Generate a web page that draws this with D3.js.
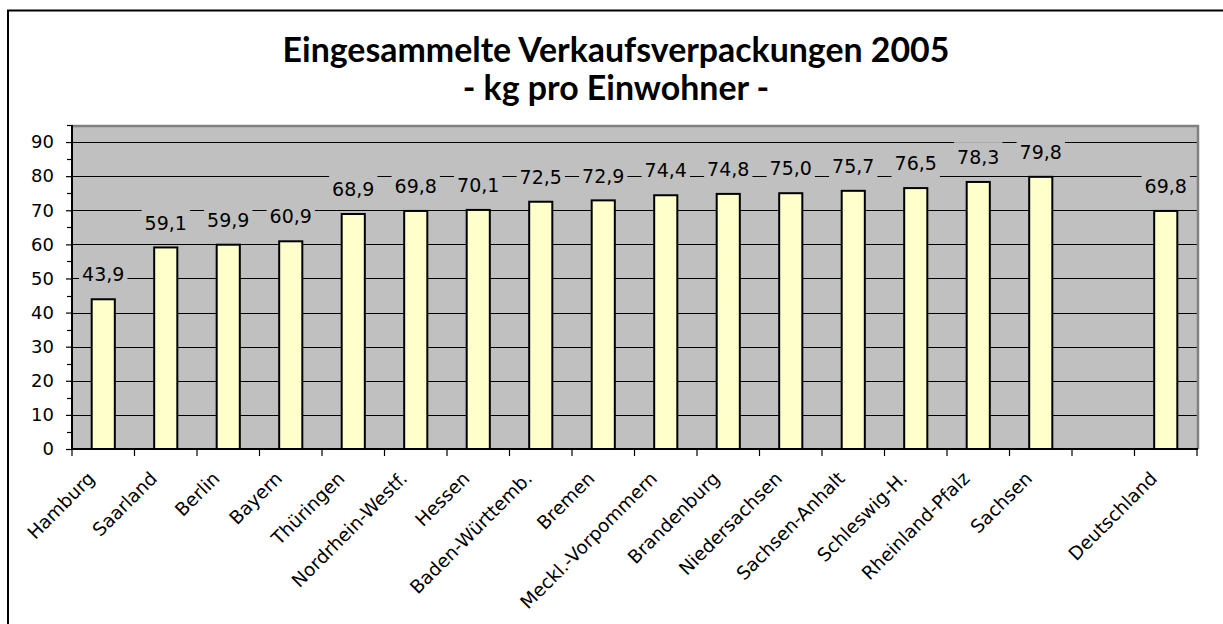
<!DOCTYPE html>
<html>
<head>
<meta charset="utf-8">
<script src="https://cdnjs.cloudflare.com/ajax/libs/d3/7.8.5/d3.min.js"></script>
<style>
  body { margin: 0; background: #fff; }
  svg { display: block; }
</style>
</head>
<body>
<div id="chart"></div>
<script>
// categories, with an empty slot between the states and the national value
const categories = ['Hamburg', 'Saarland', 'Berlin', 'Bayern', 'Thüringen', 'Nordrhein-Westf.', 'Hessen',
  'Baden-Württemb.', 'Bremen', 'Meckl.-Vorpommern', 'Brandenburg', 'Niedersachsen', 'Sachsen-Anhalt',
  'Schleswig-H.', 'Rheinland-Pfalz', 'Sachsen', '', 'Deutschland']
const values = [43.9, 59.1, 59.9, 60.9, 68.9, 69.8, 70.1, 72.5, 72.9, 74.4, 74.8, 75.0, 75.7, 76.5, 78.3, 79.8, null, 69.8]
const yTicks = [0, 10, 20, 30, 40, 50, 60, 70, 80, 90]
const yMinorTicks = [5, 15, 25, 35, 45, 55, 65, 75, 85, 95]
const yMax = 95
const titleLines = ['Eingesammelte Verkaufsverpackungen 2005', '- kg pro Einwohner -']

const width = 1223
const height = 624
const plot = { left: 72, right: 1197, top: 125, bottom: 449 }
const numFont = 'DejaVu Sans, Verdana, sans-serif'

const fmt = d3.formatLocale({ decimal: ',', thousands: '.', grouping: [3], currency: ['', ' €'] }).format('.1f')

const svg = d3.select('#chart')
  .append('svg')
  .attr('width', width)
  .attr('height', height)

// chart frame (only left and top edges fall inside the picture)
svg.append('rect')
  .attr('x', 8)
  .attr('y', 10.5)
  .attr('width', 1400)
  .attr('height', 800)
  .attr('fill', '#fff')
  .attr('stroke', '#000')
  .attr('stroke-width', 2)

// title
const titleText = svg.append('g')
  .selectAll('text')
  .data(titleLines)
  .join('text')
  .attr('x', 616)
  .attr('y', (d, i) => 62 + i * 38)
  .attr('text-anchor', 'middle')
  .attr('font-family', 'Lato, "Open Sans", sans-serif')
  .attr('font-weight', 'bold')
  .attr('font-size', 30)
  .attr('fill', '#000')
  .text(d => d)
const w0 = titleText.node().getComputedTextLength()
titleText.attr('font-size', 30 * 667 / w0)

const idx = d3.range(categories.length)

const xSlot = d3.scaleBand()
  .domain(idx)
  .range([plot.left, plot.right])
  .padding(0)

const x = d3.scaleBand()
  .domain(idx)
  .range([plot.left, plot.right])
  .paddingInner(0.63)
  .paddingOuter(0.315)

const y = d3.scaleLinear()
  .domain([0, yMax])
  .range([plot.bottom, plot.top])

// plot area
svg.append('rect')
  .attr('x', plot.left)
  .attr('y', plot.top)
  .attr('width', plot.right - plot.left)
  .attr('height', plot.bottom - plot.top)
  .attr('fill', '#c0c0c0')

// gridlines
svg.append('g')
  .selectAll('line')
  .data(yTicks.filter(t => t > 0))
  .join('line')
  .attr('x1', plot.left)
  .attr('x2', plot.right)
  .attr('y1', d => Math.round(y(d)) + 0.5)
  .attr('y2', d => Math.round(y(d)) + 0.5)
  .attr('stroke', '#000')
  .attr('stroke-width', 1)

// plot border, top and right
svg.append('path')
  .attr('d', `M${plot.left},${plot.top + 1}H${plot.right + 1}V${plot.bottom}`)
  .attr('fill', 'none')
  .attr('stroke', '#808080')
  .attr('stroke-width', 2.5)

// bars
const barData = idx.filter(i => values[i] != null)

svg.append('g')
  .selectAll('rect')
  .data(barData)
  .join('rect')
  .attr('x', i => x(i))
  .attr('y', i => y(values[i]))
  .attr('width', x.bandwidth())
  .attr('height', i => y(0) - y(values[i]))
  .attr('fill', '#ffffcc')
  .attr('stroke', '#000')
  .attr('stroke-width', 2)

// y axis
const yAxis = svg.append('g')
  .attr('transform', `translate(${plot.left},0)`)
  .call(d3.axisLeft(y).tickValues(yTicks).tickFormat(d3.format('d')).tickSize(6).tickPadding(12))
yAxis.select('.domain').remove()
yAxis.selectAll('.tick line').attr('stroke', '#000').attr('stroke-width', 1.2)
yAxis.selectAll('text')
  .attr('font-family', numFont)
  .attr('font-size', 18)
  .attr('fill', '#000')

svg.append('g')
  .selectAll('line')
  .data(yMinorTicks)
  .join('line')
  .attr('x1', plot.left - 5)
  .attr('x2', plot.left)
  .attr('y1', d => Math.round(y(d)) + 0.5)
  .attr('y2', d => Math.round(y(d)) + 0.5)
  .attr('stroke', '#000')
  .attr('stroke-width', 1.2)

// x axis ticks at slot boundaries
svg.append('g')
  .selectAll('line')
  .data(idx.concat([categories.length]))
  .join('line')
  .attr('x1', i => i < categories.length ? xSlot(i) : plot.right)
  .attr('x2', i => i < categories.length ? xSlot(i) : plot.right)
  .attr('y1', plot.bottom)
  .attr('y2', plot.bottom + 7)
  .attr('stroke', '#000')
  .attr('stroke-width', 1.2)

// axis lines
svg.append('path')
  .attr('d', `M${plot.left},${plot.top}V${plot.bottom}H${plot.right + 1}`)
  .attr('fill', 'none')
  .attr('stroke', '#000')
  .attr('stroke-width', 2)

// x labels
const xAxis = svg.append('g')
  .attr('transform', `translate(0,${plot.bottom})`)
  .call(d3.axisBottom(xSlot).tickSize(0).tickFormat(i => categories[i]))
xAxis.select('.domain').remove()
xAxis.selectAll('text')
  .attr('font-family', numFont)
  .attr('font-size', 18.5)
  .attr('fill', '#000')
  .attr('text-anchor', 'end')
  .attr('x', 0)
  .attr('y', 0)
  .attr('dy', '0.35em')
  .attr('transform', 'translate(-12,26) rotate(-45)')

// data labels with plot-coloured box
const labels = svg.append('g')
  .selectAll('g')
  .data(barData)
  .join('g')
  .attr('transform', i => `translate(${x(i) + x.bandwidth() / 2},${y(values[i]) - 24.5})`)

labels.append('rect').attr('fill', '#c0c0c0')
labels.append('text')
  .attr('text-anchor', 'middle')
  .attr('dy', '0.35em')
  .attr('font-family', numFont)
  .attr('font-size', 19)
  .attr('fill', '#000')
  .text(i => fmt(values[i]))

labels.each(function () {
  const g = d3.select(this)
  const b = g.select('text').node().getBBox()
  g.select('rect')
    .attr('x', b.x - 3)
    .attr('y', b.y - 4)
    .attr('width', b.width + 6)
    .attr('height', b.height + 8)
})
</script>
</body>
</html>
